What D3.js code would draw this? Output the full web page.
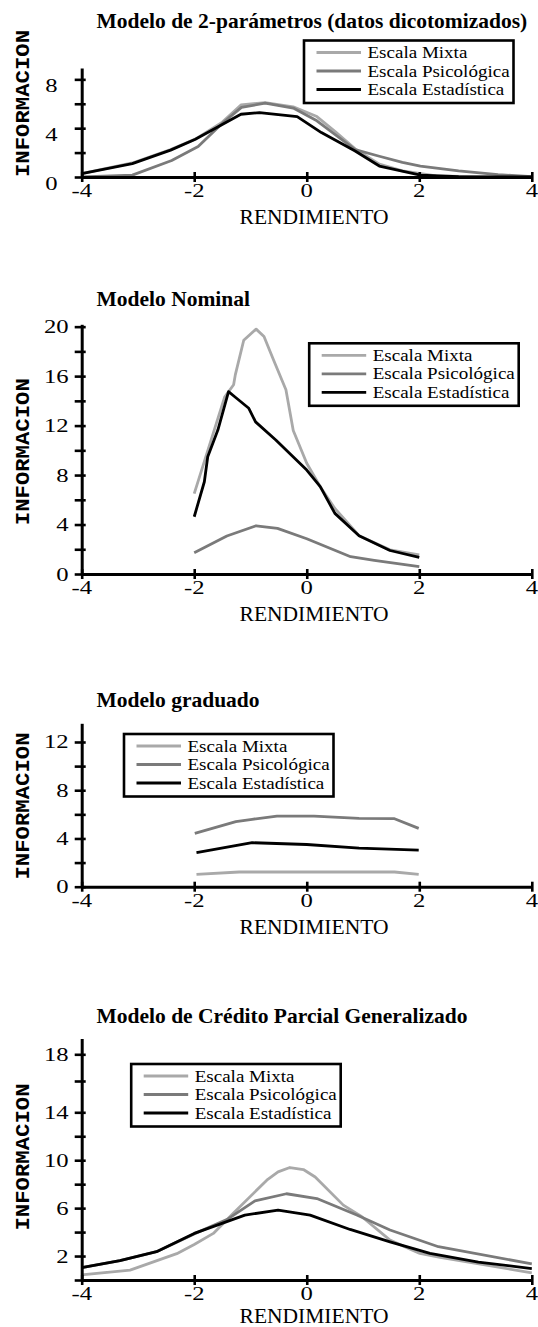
<!DOCTYPE html>
<html>
<head>
<meta charset="utf-8">
<script src="https://cdnjs.cloudflare.com/ajax/libs/d3/7.8.5/d3.min.js"></script>
<style>
  html, body { margin: 0; padding: 0; background: #fff; }
  svg { display: block; }
  text { font-family: 'Liberation Serif', 'Times New Roman', serif; fill: #000; }
</style>
</head>
<body>
<div id="chart"></div>
<script>
const width = 538;
const height = 1327;

const xTicks = [-4, -2, 0, 2, 4];
const seriesNames = ['Escala Mixta', 'Escala Psicológica', 'Escala Estadística'];
const seriesColors = ['#a9a9a9', '#7a7a7a', '#000000'];

// Modelo de 2-parámetros (datos dicotomizados)
const dicMixta = [[-4, 0.28], [-3.1, 1.15], [-2.42, 2.25], [-1.98, 3.1], [-1.5, 4.5], [-1.17, 5.9],
  [-0.74, 6.1], [-0.24, 5.75], [0.18, 4.95], [0.5, 3.75], [0.86, 2.3], [1.29, 1.05], [1.7, 0.5],
  [2.3, 0.1], [3, 0.02], [4, 0]];
const dicPsico = [[-4, 0], [-3.1, 0.15], [-2.4, 1.35], [-1.93, 2.5], [-1.5, 4.4], [-1.16, 5.7],
  [-0.74, 6.05], [-0.24, 5.65], [0.18, 4.6], [0.5, 3.5], [0.86, 2.25], [1.29, 1.7], [1.7, 1.2],
  [2.02, 0.9], [2.7, 0.5], [3.4, 0.2], [4, 0.02]];
const dicEstad = [[-4, 0.28], [-3.1, 1.1], [-2.42, 2.2], [-1.98, 3.1], [-1.17, 5.14], [-0.84, 5.28],
  [-0.17, 4.95], [0.26, 3.64], [0.86, 2.13], [1.29, 0.9], [2.02, 0.16], [2.7, 0.02], [4, 0]];

// Modelo Nominal
const nomMixta = [[-2, 6.5], [-1.46, 14.3], [-1.3, 15.3], [-1.27, 16.1], [-1.12, 18.9], [-0.9, 19.8],
  [-0.76, 19.2], [-0.59, 17.3], [-0.37, 14.9], [-0.24, 11.6], [0, 8.95], [0.24, 7.06], [0.5, 5.3],
  [0.93, 3.1], [1.48, 1.95], [2, 1.55]];
const nomPsico = [[-2, 1.72], [-1.42, 3.07], [-0.9, 3.9], [-0.52, 3.69], [0, 2.85], [0.78, 1.4],
  [1.2, 1.1], [2, 0.59]];
const nomEstad = [[-2, 4.63], [-1.82, 7.46], [-1.76, 9.48], [-1.58, 11.64], [-1.39, 14.74],
  [-1.28, 14.33], [-1.03, 13.4], [-0.91, 12.3], [-0.55, 10.83], [0, 8.4], [0.24, 7.06], [0.5, 4.9],
  [0.93, 3.1], [1.48, 1.9], [2, 1.35]];

// Modelo graduado
const gradMixta = [[-1.96, 1.02], [-1.2, 1.22], [1.56, 1.22], [1.99, 1.02]];
const gradPsico = [[-1.99, 4.42], [-1.26, 5.39], [-0.97, 5.59], [-0.53, 5.86], [0.13, 5.86],
  [0.93, 5.67], [1.56, 5.64], [1.99, 4.84]];
const gradEstad = [[-1.96, 2.82], [-0.97, 3.65], [0, 3.5], [0.93, 3.2], [1.99, 3.04]];

// Modelo de Crédito Parcial Generalizado
const gcpMixta = [[-4, 0.42], [-3.14, 0.83], [-2.31, 2.2], [-2, 2.97], [-1.66, 3.89], [-1.31, 5.56],
  [-0.71, 8.33], [-0.51, 9.03], [-0.3, 9.39], [-0.06, 9.22], [0.15, 8.6], [0.65, 6.25], [0.98, 5.28],
  [1.48, 3.33], [2.01, 2.22], [2.37, 1.89], [4, 0.6]];
const gcpPsico = [[-4, 1.03], [-3.32, 1.61], [-2.67, 2.36], [-2, 3.85], [-1.4, 5.1], [-0.92, 6.6],
  [-0.36, 7.2], [0.18, 6.8], [0.89, 5.42], [1.48, 4.17], [2.34, 2.78], [4, 1.35]];
const gcpEstad = [[-4, 1.03], [-3.32, 1.61], [-2.67, 2.36], [-2, 3.89], [-1.1, 5.42], [-0.51, 5.83],
  [0.06, 5.42], [0.77, 4.22], [1.48, 3.19], [2.19, 2.22], [3.05, 1.5], [4, 0.95]];

const titles = [
  'Modelo de 2-parámetros (datos dicotomizados)',
  'Modelo Nominal',
  'Modelo graduado',
  'Modelo de Crédito Parcial Generalizado'
];

const axisX = 81.7;
const x = d3.scaleLinear().domain([-4, 4]).range([axisX, 531.8]);

const panels = [
  { title: titles[0], data: [dicMixta, dicPsico, dicEstad],
    yDomain: [0, 8.93], yRange: [177, 68], yTicks: [0, 2, 4, 6, 8], yLabels: [0, 4, 8],
    titleY: 27.7, labelY: 103.5, labelGap: 24, labelDy: 6.5, xTitleDy: 47, legend: [304, 40.5] },
  { title: titles[1], data: [nomMixta, nomPsico, nomEstad],
    yDomain: [0, 20.19], yRange: [574, 324.3], yTicks: d3.range(0, 21, 2), yLabels: [0, 4, 8, 12, 16, 20],
    titleY: 306, labelY: 451.7, labelGap: 13, labelDy: 0, xTitleDy: 47, legend: [309.2, 343.3] },
  { title: titles[2], data: [gradMixta, gradPsico, gradEstad],
    yDomain: [0, 13.55], yRange: [886.7, 723.3], yTicks: d3.range(0, 13, 2), yLabels: [0, 4, 8, 12],
    titleY: 707.3, labelY: 806, labelGap: 13, labelDy: 0, xTitleDy: 47, legend: [124, 734] },
  { title: titles[3], data: [gcpMixta, gcpPsico, gcpEstad],
    yDomain: [0, 14, 16, 18, 19.18], yRange: [1280, 1112.3, 1081, 1054.3, 1038.5],
    yTicks: d3.range(0, 19, 2), yLabels: [2, 6, 10, 14, 18],
    titleY: 1023.3, labelY: 1157, labelGap: 13, labelDy: 0, xTitleDy: 42.5, legend: [131.2, 1064] }
];

const svg = d3.select('#chart').append('svg')
  .attr('width', width)
  .attr('height', height);

// text stretched horizontally, like the original glyphs
const wideText = (g, str, tx, ty, size, sx, anchor) =>
  g.append('text')
    .attr('transform', `translate(${tx},${ty}) scale(${sx},1)`)
    .attr('text-anchor', anchor)
    .style('font-size', size + 'px')
    .text(str);

const line = y => d3.line().x(d => x(d[0])).y(d => y(d[1]));

panels.forEach(p => {
  const g = svg.append('g');
  const y = d3.scaleLinear().domain(p.yDomain).range(p.yRange);
  const baseY = y(0);

  // title
  g.append('text')
    .attr('x', 96.5)
    .attr('y', p.titleY)
    .style('font-size', '21.5px')
    .style('font-weight', 'bold')
    .text(p.title);

  // y axis title
  g.append('text')
    .attr('transform', `translate(28.5,${p.labelY}) rotate(-90)`)
    .attr('text-anchor', 'middle')
    .attr('textLength', 147)
    .attr('lengthAdjust', 'spacingAndGlyphs')
    .style('font-family', "'Liberation Mono', 'Courier New', monospace")
    .style('font-weight', 'bold')
    .style('font-size', '21px')
    .text('INFORMACION');

  // x axis title
  g.append('text')
    .attr('x', 314)
    .attr('y', baseY + p.xTitleDy)
    .attr('text-anchor', 'middle')
    .style('font-size', '21.5px')
    .text('RENDIMIENTO');

  // data lines
  p.data.forEach((s, i) => {
    g.append('path')
      .datum(s)
      .attr('d', line(y))
      .attr('fill', 'none')
      .attr('stroke', seriesColors[i])
      .attr('stroke-width', 2.8)
      .attr('stroke-linejoin', 'round');
  });

  // axes
  const yAxis = g.append('g')
    .attr('transform', `translate(${axisX},0)`)
    .call(d3.axisLeft(y).tickValues(p.yTicks).tickSize(7).tickSizeOuter(0).tickFormat(''));
  yAxis.selectAll('.tick line').attr('x1', 4).attr('x2', -7);

  const xAxis = g.append('g')
    .attr('transform', `translate(0,${baseY})`)
    .call(d3.axisBottom(x).tickValues(xTicks).tickSize(5).tickSizeOuter(0).tickFormat(''));
  xAxis.selectAll('.tick line').attr('y1', -5).attr('y2', 5);

  [yAxis, xAxis].forEach(a => {
    a.select('.domain').attr('stroke', '#000').attr('stroke-width', 3);
    a.selectAll('.tick line').attr('stroke', '#000').attr('stroke-width', 2.6);
  });

  // tick labels
  p.yLabels.forEach(v =>
    wideText(g, v, axisX - p.labelGap, y(v) + 6.5 + p.labelDy, 19, 1.3, 'end'));
  xTicks.forEach(v =>
    wideText(g, v, x(v), baseY + 20, 19, 1.3, 'middle'));

  // legend
  const [lx, ly] = p.legend;
  const leg = g.append('g').attr('transform', `translate(${lx},${ly})`);
  leg.append('rect')
    .attr('width', 209.5)
    .attr('height', 62.5)
    .attr('fill', '#fff')
    .attr('stroke', '#000')
    .attr('stroke-width', 2.6);
  seriesNames.forEach((name, i) => {
    const by = 17.5 + i * 18.5;
    leg.append('line')
      .attr('x1', 12.5).attr('x2', 57)
      .attr('y1', by - 5.5).attr('y2', by - 5.5)
      .attr('stroke', seriesColors[i])
      .attr('stroke-width', 2.8);
    wideText(leg, name, 63.5, by, 17, 1.12, 'start');
  });
});
</script>
</body>
</html>
